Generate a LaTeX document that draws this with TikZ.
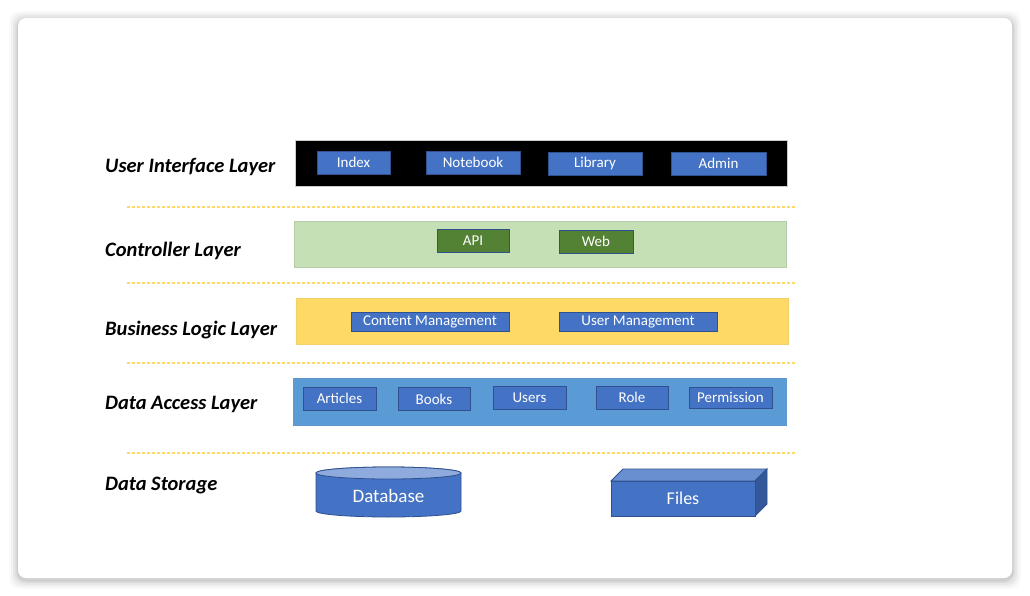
\documentclass[tikz,border=0pt]{standalone}
\usepackage{fontspec}
\setmainfont{Carlito}
\definecolor{boxblue}{HTML}{4472C4}
\definecolor{boxedge}{HTML}{2F528F}
\definecolor{ctlgreen}{HTML}{C5E0B4}
\definecolor{apigreen}{HTML}{548235}
\definecolor{bizyellow}{HTML}{FFD966}
\definecolor{dalblue}{HTML}{5B9BD5}
\definecolor{dbtop}{HTML}{8FAADC}
\definecolor{cubetop}{HTML}{6A8FD0}
\definecolor{cubeside}{HTML}{34589A}
\definecolor{sepline}{HTML}{FFD966}
\begin{document}
\begin{tikzpicture}[x=1pt,y=-1pt,
  layerlabel/.style={anchor=west,font=\fontsize{20.5}{22}\selectfont\bfseries\itshape,inner sep=0},
  layerbox/.style={draw=gray!40,line width=0.5pt,inner sep=0,minimum width=492pt,minimum height=46pt},
  itembox/.style={draw=boxedge,fill=boxblue,line width=0.8pt,text=white,inner sep=0,minimum height=23pt,font=\fontsize{15}{17}\selectfont},
  greenbox/.style={itembox,fill=apigreen},
  sep/.style={draw=sepline,line width=1.1pt,dash pattern=on 3pt off 2pt}
]
\useasboundingbox (0,0) rectangle (1030,596);
\fill[white] (0,0) rectangle (1030,596);
% card shadow
\foreach \i/\o in {9/0.02,7/0.03,5/0.04,3/0.05,1.5/0.06}{
  \fill[black,opacity=\o,rounded corners=10pt] (18-\i,20-\i) rectangle (1012+\i,580+\i);
}
\fill[white,rounded corners=8pt] (18,18) rectangle (1012,578);

% labels
\node[layerlabel] (l1) at (105,167) {User Interface Layer};
\node[layerlabel] (l2) at (105,251) {Controller Layer};
\node[layerlabel] (l3) at (105,330) {Business Logic Layer};
\node[layerlabel] (l4) at (105,404) {Data Access Layer};
\node[layerlabel] (l5) at (105,486) {Data Storage};

% separators
\coordinate (s1a) at (127,207); \coordinate (s1b) at (797,207);
\coordinate (s2a) at (127,283); \coordinate (s2b) at (797,283);
\coordinate (s3a) at (127,363); \coordinate (s3b) at (797,363);
\coordinate (s4a) at (127,453); \coordinate (s4b) at (797,453);
\draw[sep] (s1a) -- (s1b);
\draw[sep] (s2a) -- (s2b);
\draw[sep] (s3a) -- (s3b);
\draw[sep] (s4a) -- (s4b);

% UI layer
\node[layerbox,fill=black] (ui) at (541,163) {};
\node[itembox,minimum width=73pt] (index) at (353.5,162.5) {Index};
\node[itembox,minimum width=94pt] (notebook) at (473,162.5) {Notebook};
\node[itembox,minimum width=94pt] (library) at (595,163.5) {Library};
\node[itembox,minimum width=95pt] (admin) at (718.5,163.5) {Admin};

% Controller layer
\node[layerbox,fill=ctlgreen,draw=ctlgreen!80!gray] (ctl) at (540,244) {};
\node[greenbox,minimum width=72pt] (api) at (473,240.5) {API};
\node[greenbox,minimum width=74pt] (web) at (596,241.5) {Web};

% Business logic layer
\node[layerbox,fill=bizyellow,draw=bizyellow!90!gray] (biz) at (542,321.5) {};
\node[itembox,minimum width=158pt,minimum height=19pt] (cm) at (430,321.5) {Content Management};
\node[itembox,minimum width=158pt,minimum height=19pt] (um) at (638,321.5) {User Management};

% Data access layer
\node[layerbox,fill=dalblue,draw=dalblue!90!gray,minimum width=493pt,minimum height=47pt] (dal) at (539.5,401.5) {};
\node[itembox,minimum width=73pt] (articles) at (339.5,398.5) {Articles};
\node[itembox,minimum width=72pt] (books) at (434,399) {Books};
\node[itembox,minimum width=73pt] (users) at (529.5,398) {Users};
\node[itembox,minimum width=72pt] (role) at (632,397.5) {Role};
\node[itembox,minimum width=83pt,minimum height=21pt] (perm) at (730.5,397.5) {Permission};

% Database cylinder
\filldraw[fill=boxblue,draw=boxedge,line width=0.8pt]
  (316,473) -- (316,511) arc[start angle=180,end angle=360,x radius=72.5pt,y radius=6pt]
  -- (461,473) arc[start angle=0,end angle=180,x radius=72.5pt,y radius=6pt] -- cycle;
\filldraw[fill=dbtop,draw=boxedge,line width=0.8pt] (388.5,473) ellipse[x radius=72.5pt,y radius=6pt];
\node[text=white,font=\fontsize{19}{21}\selectfont] (db) at (388.5,496) {Database};

% Files cube
\filldraw[fill=cubetop,draw=boxedge,line width=0.8pt] (611,481) -- (623,469) -- (767,469) -- (755,481) -- cycle;
\filldraw[fill=cubeside,draw=boxedge,line width=0.8pt] (755,481) -- (767,469) -- (767,504) -- (755,516) -- cycle;
\filldraw[fill=boxblue,draw=boxedge,line width=0.8pt] (611,481) rectangle (755,516);
\node[text=white,font=\fontsize{18}{20}\selectfont] (files) at (683,498.5) {Files};
\end{tikzpicture}
\end{document}
